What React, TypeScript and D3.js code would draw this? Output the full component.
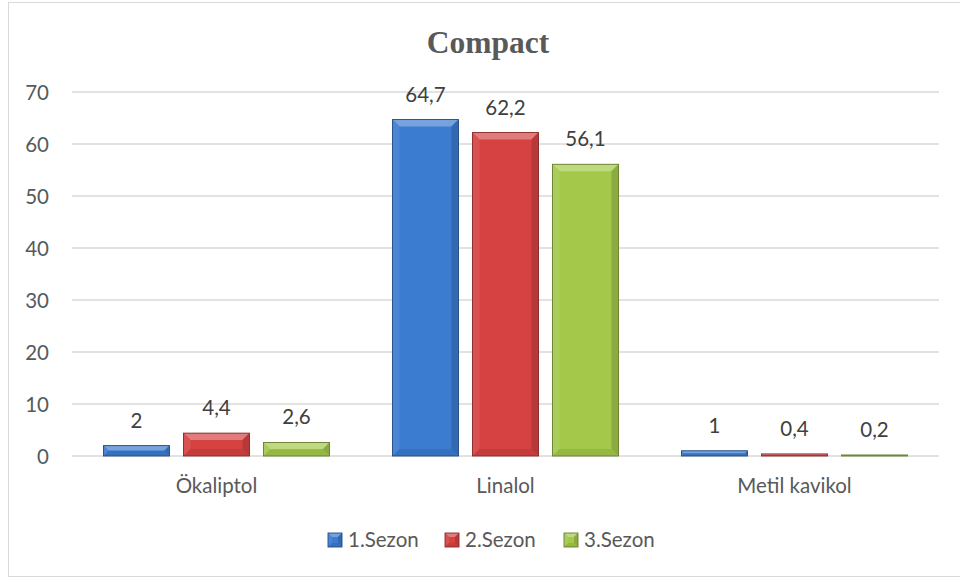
import React from "react";
import * as d3 from "d3";

const categories = ["Ökaliptol", "Linalol", "Metil kavikol"];
const seriesNames = ["1.Sezon", "2.Sezon", "3.Sezon"];
const season1 = [2, 64.7, 1];
const season2 = [4.4, 62.2, 0.4];
const season3 = [2.6, 56.1, 0.2];
const yTicks = [0, 10, 20, 30, 40, 50, 60, 70];
const colors = ["#3b7bd0", "#d64242", "#a3c84a"];

const seriesValues = [season1, season2, season3];

const W = 960;
const H = 578;
const FONT = "Lato, 'Open Sans', sans-serif";

const fmt = (v: number) => String(v).replace(".", ",");

// Bar with a bevelled edge: light top, soft left, darker right and bottom
function Bevel({ x, y, w, h, color, size }: { x: number; y: number; w: number; h: number; color: string; size: number }) {
  if (h <= 0.3) return null;
  const b = Math.min(size, w / 2, h / 2);
  const base = d3.color(color)!;
  const top = d3.interpolateRgb(color, "#ffffff")(0.3);
  const left = d3.interpolateRgb(color, "#ffffff")(0.08);
  const right = base.darker(0.45).formatHex();
  const bottom = base.darker(0.25).formatHex();
  const edge = base.darker(1.3).formatHex();
  const pts = (p: number[][]) => p.map((q) => q.join(",")).join(" ");
  return (
    <g>
      <rect x={x} y={y} width={w} height={h} fill={color} />
      <polygon points={pts([[x, y], [x + w, y], [x + w - b, y + b], [x + b, y + b]])} fill={top} />
      <polygon points={pts([[x, y], [x + b, y + b], [x + b, y + h - b], [x, y + h]])} fill={left} />
      <polygon points={pts([[x + w, y], [x + w, y + h], [x + w - b, y + h - b], [x + w - b, y + b]])} fill={right} />
      <polygon points={pts([[x, y + h], [x + b, y + h - b], [x + w - b, y + h - b], [x + w, y + h]])} fill={bottom} />
      <rect x={x} y={y} width={w} height={h} fill="none" stroke={edge} strokeWidth={0.9} />
    </g>
  );
}

export default function App() {
  const plotLeft = 72;
  const plotRight = 939;
  const y = d3.scaleLinear().domain([0, 70]).range([456, 92]);
  const x0 = d3.scaleBand<string>().domain(categories).range([plotLeft, plotRight]).padding(0);
  const bw = x0.bandwidth();
  const x1 = d3
    .scaleBand<string>()
    .domain(seriesNames)
    .range([bw * 0.109, bw * 0.891])
    .paddingInner(0.175)
    .paddingOuter(0);

  const legendX = [328, 445, 564];

  return (
    <div style={{ position: "fixed", left: 0, top: 0, width: W, height: H, background: "#fff" }}>
      <svg width={W} height={H} style={{ display: "block" }}>
        <rect x={8.5} y={2.5} width={W + 10} height={574} fill="#fff" stroke="#d9d9d9" strokeWidth={1} />
        <text x={488} y={53} textAnchor="middle" fontFamily="'Liberation Serif', 'Times New Roman', serif" fontWeight="bold" fontSize={31.5} fill="#595959">
          Compact
        </text>

        {yTicks.map((t) => (
          <g key={t}>
            <line x1={plotLeft} x2={plotRight} y1={y(t)} y2={y(t)} stroke="#d9d9d9" strokeWidth={1.3} />
            <text x={49} y={y(t) + 7.5} textAnchor="end" fontFamily={FONT} fontSize={20.5} fill="#595959">
              {t}
            </text>
          </g>
        ))}

        {categories.map((c, ci) => (
          <g key={c}>
            {seriesNames.map((s, si) => {
              const v = seriesValues[si][ci];
              const bx = (x0(c) ?? 0) + (x1(s) ?? 0);
              const by = y(v);
              const h = y(0) - by;
              return (
                <g key={s}>
                  <Bevel x={bx} y={by} w={x1.bandwidth()} h={h} color={colors[si]} size={7} />
                  <text x={bx + x1.bandwidth() / 2} y={by - 18} textAnchor="middle" fontFamily={FONT} fontSize={20.5} fill="#404040">
                    {fmt(v)}
                  </text>
                </g>
              );
            })}
            <text x={(x0(c) ?? 0) + bw / 2} y={493} textAnchor="middle" fontFamily={FONT} fontSize={20.5} fill="#595959">
              {c}
            </text>
          </g>
        ))}

        {seriesNames.map((s, si) => (
          <g key={s}>
            <Bevel x={legendX[si]} y={533} w={14} h={14} color={colors[si]} size={4} />
            <text x={legendX[si] + 20} y={547} fontFamily={FONT} fontSize={20.5} fill="#595959">
              {s}
            </text>
          </g>
        ))}
      </svg>
    </div>
  );
}
